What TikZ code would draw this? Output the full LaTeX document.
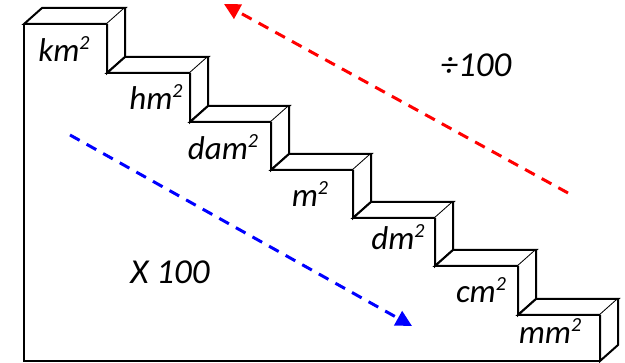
\documentclass[tikz,border=0pt]{standalone}
\usepackage{fontspec}
\setmainfont{Carlito}
\usetikzlibrary{arrows.meta}

\newcommand{\sqr}{\raisebox{0.36em}{\fontsize{20}{20}\selectfont 2}}

\tikzset{
    stair/.style={draw, line width=2pt, line join=miter, fill=white},
    unit/.style={font=\fontsize{33}{33}\selectfont\itshape, inner sep=0pt},
    factor/.style={font=\fontsize{35}{35}\selectfont\itshape, inner sep=0pt},
    conv/.style={line width=3pt, dash pattern=on 11pt off 8pt, -{Triangle[length=16pt,width=16pt]}}
}

\begin{document}
\begin{tikzpicture}[x=1pt, y=-1pt]
    \useasboundingbox (0,0) rectangle (625,363);

    % the steps: top face and side face of each one
    \foreach \xa/\xb/\ya/\yb in {24/107/24/73, 107/190/73/122, 190/271/122/170, 271/353/170/218, 353/435/218/266, 435/518/266/315, 518/600/315/361} {
        \draw[stair] (\xa,\ya) -- ++(18,-16) -- (\xb+18,\ya-16) -- (\xb,\ya) -- cycle;
        \draw[stair] (\xb,\ya) -- (\xb,\yb) -- ++(18,-16) -- (\xb+18,\ya-16);
    }
    \draw[stair, fill=none] (24,24) -- (24,361) -- (600,361);

    % unit labels
    \node[unit] (km) at (64,49) {km\sqr};
    \node[unit] (hm) at (156,97) {hm\sqr};
    \node[unit] (dam) at (223,147) {dam\sqr};
    \node[unit] (m) at (310,194) {m\sqr};
    \node[unit] (dm) at (398,237) {dm\sqr};
    \node[unit] (cm) at (481,290) {cm\sqr};
    \node[unit] (mm) at (550,331) {mm\sqr};

    % conversion arrows
    \coordinate (upstart) at (568,193);
    \coordinate (upend) at (224,4);
    \coordinate (downstart) at (70,135);
    \coordinate (downend) at (412,326);
    \draw[conv, red] (upstart) -- (upend);
    \draw[conv, blue] (downstart) -- (downend);

    \node[factor] (div) at (476,65) {÷100};
    \node[factor] (mul) at (170,272) {X 100};
\end{tikzpicture}
\end{document}
